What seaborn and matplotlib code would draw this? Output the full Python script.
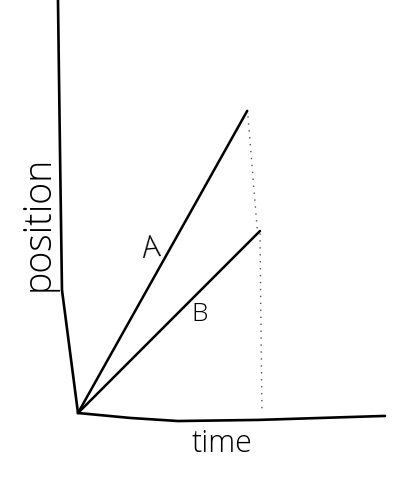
import numpy as np
import pandas as pd
import matplotlib
matplotlib.use("Agg")
import matplotlib.pyplot as plt
import seaborn as sns

#%% data (hand sketch, time / position in arbitrary units)
pos_A = [0.0, 16.6]
pos_B = [0.0, 10.0]
t_A = [0.0, 9.3]
t_B = [0.0, 10.0]

# hand-drawn axes as sketched
yaxis_t = [-1.10, -0.99, -0.88, 0.0]
yaxis_p = [22.69, 14.45, 6.76, 0.0]
xaxis_t = [0.0, 2.86, 5.49, 9.89, 16.87]
xaxis_p = [0.0, -0.27, -0.44, -0.38, -0.16]

# dotted drop line from end of A down to the time axis
drop_t = [9.34, 9.84, 10.0, 10.11]
drop_p = [16.3, 10.2, 9.9, 0.0]

lines = pd.concat([
    pd.DataFrame({"time": t_A, "position": pos_A, "run": "A"}),
    pd.DataFrame({"time": t_B, "position": pos_B, "run": "B"}),
])

#%% plot
sns.set_style("white")
plt.rcParams['font.family'] = ['Open Sans', 'DejaVu Sans']

fig = plt.figure(figsize=(4.13, 4.82), dpi=100)
ax = fig.add_axes([0, 0, 1, 1])

sns.lineplot(data=lines, x="time", y="position", units="run", estimator=None,
             color="black", linewidth=1.8, ax=ax, legend=False)
ax.plot(yaxis_t, yaxis_p, color="black", linewidth=1.9)
ax.plot(xaxis_t, xaxis_p, color="black", linewidth=1.9)
ax.plot(drop_t, drop_p, color="#555555", linewidth=1.0, linestyle=(0, (1, 4)))

txt = dict(color="black", ha="center", va="center", fontweight="light")
ax.text(4.0, 9.0, "A", fontsize=22, rotation=6, **txt)
ax.text(6.7, 5.4, "B", fontsize=19, **txt)
ax.text(-2.2, 10.4, "position", fontsize=27, rotation=90, **txt)
ax.text(7.9, -1.7, "time", fontsize=22, **txt)

ax.set_xlim(-4.286, 18.41)
ax.set_ylim(-3.79, 22.69)
ax.axis("off")

plt.savefig("out.png", dpi=100)
